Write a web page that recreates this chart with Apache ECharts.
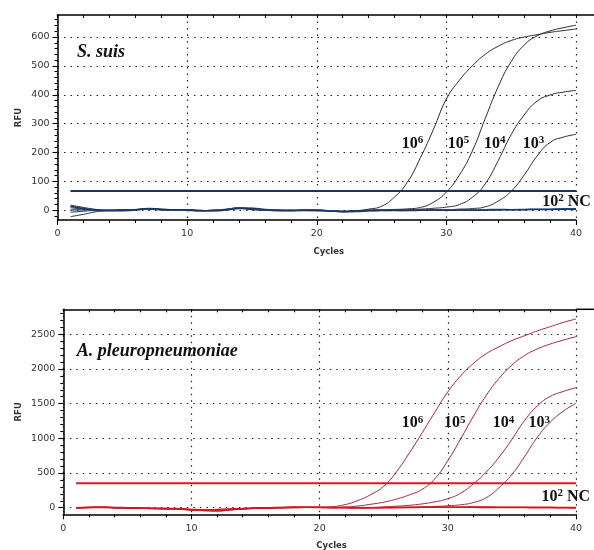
<!DOCTYPE html>
<html><head><meta charset="utf-8">
<script src="https://cdn.jsdelivr.net/npm/echarts@6/dist/echarts.min.js"></script>
<style>html,body{margin:0;padding:0;background:#fff}#c{width:594px;height:550px}</style>
</head><body><div id="c"></div>
<script>
// ---------- data ----------
const cycles = [1,2,3,4,5,6,7,8,9,10,11,12,13,14,15,16,17,18,19,20,21,22,23,24,25,26,27,28,29,30,31,32,33,34,35,36,37,38,39,40];
const xTicks = [0,10,20,30,40];

// S. suis (top panel)
const suisTitle = 'S. suis';
const suisE6 = [-22,-14,-5,0,2,1,4,2,1,2,0,-1,3,6,2,0,-2,-1,0,1,-2,-4,-2,4,14,46,98,182,280,385,450,500,540,568,588,600,608,616,622,628];
const suisE5 = [18,10,3,0,-1,2,3,1,0,1,-1,0,2,8,4,1,-1,0,1,0,-1,-3,-1,1,2,3,5,10,28,63,122,205,318,428,515,572,604,621,632,641];
const suisE4 = [9,4,1,-1,1,3,5,2,1,0,-2,1,4,9,5,2,0,-1,0,1,-1,-4,-2,0,1,1,2,4,7,11,20,45,92,172,262,330,378,399,409,415];
const suisE3 = [-7,-3,0,1,0,2,4,3,0,1,-1,-1,3,7,3,0,-1,-2,1,0,-2,-5,-3,-1,0,0,1,1,2,2,4,6,12,32,66,122,188,235,253,263];
const suisE2 = [1,2,-1,0,-2,1,5,3,1,0,-2,-1,2,8,6,2,0,-1,0,-1,-2,-5,-3,-1,0,-1,0,1,0,1,2,1,2,3,2,3,4,4,5,5];
const suisNC = [14,6,1,-2,0,2,6,4,2,1,-1,-2,1,6,7,3,1,0,-1,-1,-3,-4,-4,-2,-1,0,-1,0,1,0,1,0,1,1,2,2,3,3,4,4];
const suisThreshold = 67;
const suisYTicks = [0,100,200,300,400,500,600];

// A. pleuropneumoniae (bottom panel)
const apTitle = 'A. pleuropneumoniae';
const apE6 = [0,5,10,0,-5,-10,-15,-20,-10,-30,-45,-50,-35,-20,-10,0,5,10,5,5,15,45,105,190,310,520,790,1080,1380,1670,1900,2080,2220,2320,2410,2480,2550,2610,2670,2720];
const apE5 = [0,3,5,2,-3,-5,-10,-15,-20,-35,-40,-45,-30,-20,-10,-5,0,5,5,8,5,10,25,50,80,125,185,265,420,680,990,1320,1620,1865,2055,2195,2290,2360,2415,2466];
const apE4 = [0,5,2,-2,-5,-8,-12,-15,-20,-30,-35,-30,-25,-15,-10,-5,0,0,5,5,3,5,5,5,12,22,35,55,85,130,210,345,515,730,985,1260,1470,1605,1675,1730];
const apE3 = [0,3,5,0,-5,-8,-10,-12,-15,-25,-30,-28,-20,-12,-8,-5,0,2,3,2,0,2,3,2,3,4,5,10,18,28,42,75,145,290,480,740,1020,1235,1390,1505];
const apE2 = [0,5,8,3,0,-5,-8,-10,-15,-25,-30,-25,-18,-10,-5,0,2,5,8,5,3,2,0,0,2,3,5,5,6,8,8,10,10,8,8,6,5,5,3,2];
const apNC = [-5,0,3,0,-3,-6,-10,-12,-18,-30,-38,-35,-25,-15,-8,-3,0,3,5,3,0,-2,-3,-2,0,2,3,5,5,6,5,5,4,3,2,2,0,0,-2,-3];
const apThreshold = 352;
const apYTicks = [0,500,1000,1500,2000,2500];

// curve annotation texts
const noteBase = ['10','10','10','10','10'];
const noteSup = ['6','5','4','3','2'];
const noteTail = ['','','','',' NC'];

// ---------- layout (positions in data units) ----------
const suisNoteAt = [[26.56,230],[30.1,230],[32.9,230],[35.9,230],[37.4,29]];
const apNoteAt = [[26.4,1217],[29.7,1217],[33.5,1217],[36.3,1217],[37.3,159]];
const suisTitleAt = [1.5,548];
const apTitleAt = [1.05,2249];

// ---------- chart ----------
const pairs = v => cycles.map((c, i) => [c, v[i]]);
const dotted = {show:true, lineStyle:{color:'#222', type:[1.5,5], width:1.2}};
const axLine = {show:true, onZero:false, lineStyle:{color:'#000', width:1.5}};
const tickStyle = {color:'#000', width:1.1};
const lblStyle = {color:'#333', fontSize:9.5, fontFamily:'DejaVu Sans', formatter: v => String(v)};
const nameStyle = {color:'#333', fontSize:8.5, fontWeight:'bold', fontFamily:'DejaVu Sans'};

function minorValues(ticks, step, min, max){
  const out = [];
  const start = Math.ceil(min/step)*step;
  for (let v = start; v <= max; v += step) {
    if (ticks.indexOf(v) < 0) out.push(v);
  }
  return out;
}

const suisMin = -33.6, suisMax = 676.2, apMin = -95, apMax = 2860;

function xAxes(g){
  return [
    {gridIndex:g, type:'value', min:0, max:40, interval:10, position:'bottom',
     axisLine:axLine, axisTick:{show:true, length:5, lineStyle:tickStyle},
     minorTick:{show:true, splitNumber:5, length:3, lineStyle:tickStyle},
     axisLabel:Object.assign({margin:9}, lblStyle),
     splitLine:dotted,
     name:'Cycles', nameLocation:'middle', nameGap:27, nameMoveOverlap:false,
     nameTextStyle:Object.assign({padding:[0,0,0,24]}, nameStyle)},
    {gridIndex:g, type:'value', min:0, max:40, interval:10, position:'top',
     axisLine:axLine, axisTick:{show:true, inside:true, length:3, lineStyle:tickStyle},
     minorTick:{show:true, splitNumber:5, length:3, lineStyle:tickStyle},
     axisLabel:{show:false}, splitLine:{show:false}}
  ];
}
function yAxes(g, min, max, ticks, step, gap){
  return [
    {gridIndex:g, type:'value', min:min, max:max, position:'left',
     axisLine:axLine,
     axisTick:{show:true, length:5, customValues:ticks, lineStyle:tickStyle},
     axisLabel:Object.assign({margin:8, customValues:ticks}, lblStyle),
     splitLine:dotted,
     name:'RFU', nameLocation:'middle', nameGap:gap, nameMoveOverlap:false, nameTextStyle:nameStyle},
    {gridIndex:g, type:'value', min:min, max:max, position:'left', offset:0,
     axisLine:{show:false, onZero:false},
     axisTick:{show:true, length:3, customValues:minorValues(ticks, step, min, max), lineStyle:tickStyle},
     axisLabel:{show:false}, splitLine:{show:false}}
  ];
}

function curve(name, v, xi, yi, color, width, z){
  return {name:name, type:'line', xAxisIndex:xi, yAxisIndex:yi, data:pairs(v),
    showSymbol:false, symbol:'none', smooth:0.5,
    lineStyle:{color:color, width:width}, z:z||2, silent:true};
}
function threshold(v, xi, yi, color){
  return {type:'line', xAxisIndex:xi, yAxisIndex:yi, data:[[cycles[0], v],[cycles[cycles.length-1], v]],
    showSymbol:false, symbol:'none', lineStyle:{color:color, width:2}, z:3, silent:true};
}

const darkCurve = '#2b2b33', blueBase = '#2a5aa0', navy = '#1a3560';
const redCurve = '#a0263e', redBase = '#d9141c', redThr = '#e3141c';

const option = {
  animation:false,
  backgroundColor:'#fff',
  grid:[
    {left:57.5, top:15, width:518.5, height:205, outerBoundsMode:'none'},
    {left:63.3, top:309.3, width:512.7, height:205, outerBoundsMode:'none'}
  ],
  xAxis: xAxes(0).concat(xAxes(1)),
  yAxis: yAxes(0, suisMin, suisMax, suisYTicks, 20, 34).concat(yAxes(1, apMin, apMax, apYTicks, 100, 40)),
  series:[
    curve('10^6', suisE6, 0, 0, darkCurve, 1),
    curve('10^5', suisE5, 0, 0, darkCurve, 1),
    curve('10^4', suisE4, 0, 0, darkCurve, 1),
    curve('10^3', suisE3, 0, 0, darkCurve, 1),
    curve('10^2', suisE2, 0, 0, blueBase, 1.5, 4),
    curve('NC', suisNC, 0, 0, navy, 1.5, 4),
    threshold(suisThreshold, 0, 0, navy),
    curve('10^6', apE6, 2, 2, redCurve, 1),
    curve('10^5', apE5, 2, 2, redCurve, 1),
    curve('10^4', apE4, 2, 2, redCurve, 1),
    curve('10^3', apE3, 2, 2, redCurve, 1),
    curve('10^2', apE2, 2, 2, redBase, 1.5, 4),
    curve('NC', apNC, 2, 2, redBase, 1.5, 4),
    threshold(apThreshold, 2, 2, redThr)
  ]
};

const chart = echarts.init(document.getElementById('c'), null, {renderer:'canvas'});
chart.setOption(option);

// annotations
const rich = {
  b:{fontSize:16, fontWeight:'bold', fontFamily:'"Liberation Serif", "Times New Roman", serif', fill:'#111', lineHeight:18},
  s:{fontSize:11, fontWeight:'bold', fontFamily:'"Liberation Serif", "Times New Roman", serif', fill:'#111', lineHeight:11, verticalAlign:'top'}
};
const graphics = [];
function addNotes(at, xi, yi){
  at.forEach((p, i) => {
    const px = chart.convertToPixel({xAxisIndex:xi, yAxisIndex:yi}, p);
    let t = '{b|' + noteBase[i] + '}{s|' + noteSup[i] + '}';
    if (noteTail[i]) t += '{b|' + noteTail[i] + '}';
    graphics.push({type:'text', x:px[0], y:px[1], z:10, silent:true,
      style:{text:t, rich:rich, textAlign:'left', textVerticalAlign:'middle', fill:'#111'}});
  });
}
function addTitle(text, at, xi, yi){
  const px = chart.convertToPixel({xAxisIndex:xi, yAxisIndex:yi}, at);
  graphics.push({type:'text', x:px[0], y:px[1], z:10, silent:true,
    style:{text:text, font:'italic bold 18px "Liberation Serif", "Times New Roman", serif', fill:'#111',
      textAlign:'left', textVerticalAlign:'middle'}});
}
function extendTop(xi, yi, ymax){
  const p = chart.convertToPixel({xAxisIndex:xi, yAxisIndex:yi}, [40, ymax]);
  graphics.push({type:'line', silent:true, z:5,
    shape:{x1:p[0], y1:p[1], x2:594, y2:p[1]}, style:{stroke:'#000', lineWidth:1.5}});
}
addNotes(suisNoteAt, 0, 0);
addNotes(apNoteAt, 2, 2);
addTitle(suisTitle, suisTitleAt, 0, 0);
addTitle(apTitle, apTitleAt, 2, 2);
extendTop(0, 0, suisMax);
extendTop(2, 2, apMax);
chart.setOption({graphic:graphics});
</script>
</body></html>
